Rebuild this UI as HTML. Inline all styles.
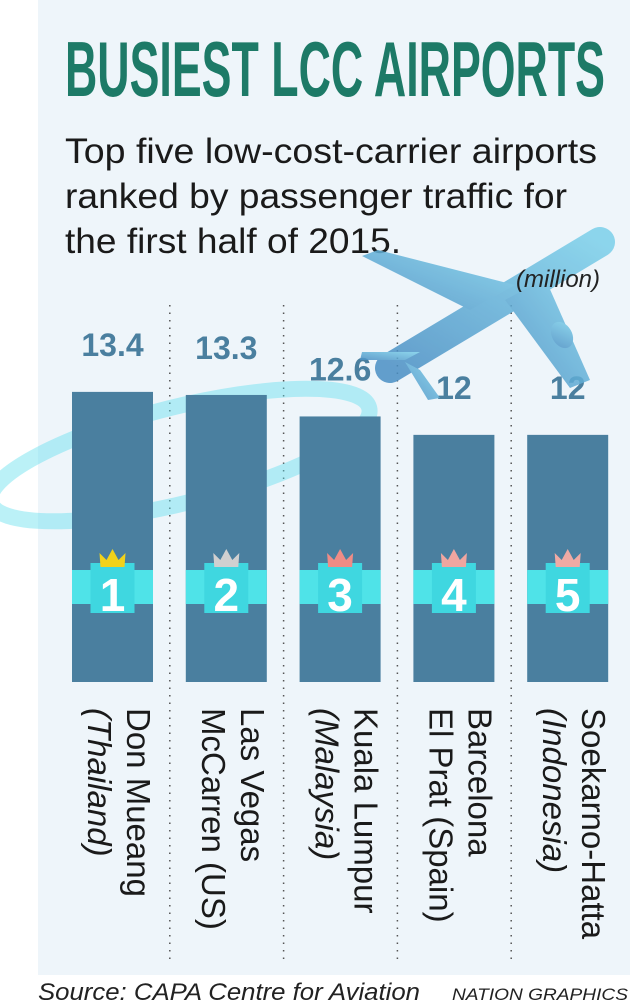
<!DOCTYPE html>
<html><head><meta charset="utf-8"><style>
html,body{margin:0;padding:0;background:#fff;}
svg{display:block;font-family:"Liberation Sans",sans-serif;}
</style></head><body>
<svg width="630" height="1008" viewBox="0 0 630 1008">
<defs>
<linearGradient id="pl" x1="0" y1="1" x2="1" y2="0"><stop offset="0" stop-color="#4a8fc4"/><stop offset="1" stop-color="#7cd0ea"/></linearGradient>
</defs>
<rect x="38" y="0" width="592" height="975" fill="#eef5fa"/>
<text x="65" y="96" font-size="78" font-weight="bold" fill="#1d7a67" textLength="540" lengthAdjust="spacingAndGlyphs">BUSIEST LCC AIRPORTS</text>
<g font-size="35" fill="#1a1a1a">
<text x="65" y="163" textLength="532" lengthAdjust="spacingAndGlyphs">Top five low-cost-carrier airports</text>
<text x="65" y="208" textLength="502" lengthAdjust="spacingAndGlyphs">ranked by passenger traffic for</text>
<text x="65" y="253" textLength="336" lengthAdjust="spacingAndGlyphs">the first half of 2015.</text>
</g>
<g id="dividers"></g>
<g id="swoosh" opacity="0.7">
<ellipse cx="180" cy="455" rx="195" ry="48" transform="rotate(-14 180 455)" fill="none" stroke="#5fe0ee" stroke-width="16" opacity="0.6"/>
</g>
<g id="bars"></g>
<g opacity="0.85" fill="url(#pl)">
<line x1="390" y1="368" x2="600" y2="242" stroke="url(#pl)" stroke-width="30" stroke-linecap="round"/>
<path d="M470 310 L515 285 L378 250 L362 256 Z"/>
<path d="M505 300 L545 278 L590 380 L570 388 Z"/>
<path d="M405 360 L420 352 L362 352 L360 360 Z"/>
<path d="M405 362 L420 370 L440 398 L428 400 Z"/>
<ellipse cx="562" cy="335" rx="10" ry="14" transform="rotate(-30 562 335)"/>
</g>
<text x="600" y="287" font-size="24" font-style="italic" fill="#222" text-anchor="end">(million)</text>
<g id="labels"></g>
<text x="38" y="1000" font-size="24" font-style="italic" fill="#222" textLength="382" lengthAdjust="spacingAndGlyphs">Source: CAPA Centre for Aviation</text>
<text x="452" y="1000" font-size="17" font-style="italic" fill="#222" textLength="176" lengthAdjust="spacingAndGlyphs">NATION GRAPHICS</text>
</svg>
<script>
const categories = ["Don Mueang|(Thailand)", "Las Vegas|McCarren (US)", "Kuala Lumpur|(Malaysia)", "Barcelona|El Prat (Spain)", "Soekarno-Hatta|(Indonesia)"];
const values = [13.4, 13.3, 12.6, 12, 12];
const valueLabels = ["13.4", "13.3", "12.6", "12", "12"];
const ranks = ["1", "2", "3", "4", "5"];
const crownColors = ["#f2d21a", "#d0d0d0", "#ef8c86", "#f0a6a0", "#f0aaa4"];

const NS = "http://www.w3.org/2000/svg";
const bottom = 682, base = 3.95, pxPerUnit = 30.7;
function y(v){ return bottom - (v - base) * pxPerUnit; }
function xLeft(i){ return 72 + i * 113.8; }
const bw = 81;
function mk(tag, attrs, parent){ const e = document.createElementNS(NS, tag); for (const k in attrs) e.setAttribute(k, attrs[k]); parent.appendChild(e); return e; }

const dv = document.getElementById("dividers");
for (let i = 1; i < categories.length; i++) {
  const x = xLeft(i) - 16;
  const l = mk("line", {x1:x, y1:305, x2:x, y2:960, stroke:"#555", "stroke-width":1.5, "stroke-dasharray":"1.5 6"}, dv);
  
  
}
const bars = document.getElementById("bars");
const lab = document.getElementById("labels");
values.forEach((v, i) => {
  const x = xLeft(i), top = y(v), cx = x + bw / 2;
  const r = mk("rect", {x:x, y:top, width:bw, height:bottom - top, fill:"#4a7f9f"}, bars);
  
  
  const t = mk("text", {x:cx, y:top - 36, "font-size":32, "font-weight":"bold", fill:"#4a7f9f", "text-anchor":"middle"}, bars);
  t.textContent = valueLabels[i];
  
  
  const band = mk("rect", {x:x, y:570, width:bw, height:34, fill:"#4fe3e8"}, bars);
  
  
  const box = mk("rect", {x:cx - 22, y:563, width:44, height:50, fill:"#3fd7e0"}, bars);
  
  
  const crown = mk("path", {d:`M${cx-12} 567 L${cx-13} 553 L${cx-6} 560 L${cx} 549 L${cx+6} 560 L${cx+13} 553 L${cx+12} 567 Z`, fill:crownColors[i]}, bars);
  
  
  const rn = mk("text", {x:cx, y:611, "font-size":46, "font-weight":"bold", fill:"#fff", "text-anchor":"middle"}, bars);
  rn.textContent = ranks[i];
  
  
  const parts = categories[i].split("|");
  const g = mk("g", {transform:`translate(${x + 55},708) rotate(90)`}, lab);
  
  
  const t1 = mk("text", {x:0, y:0, "font-size":33, fill:"#1a1a1a"}, g);
  t1.textContent = parts[0];
  const t2 = mk("text", {x:0, y:39, "font-size":33, fill:"#1a1a1a", "font-style": (i===1||i===3) ? "normal" : "italic"}, g);
  t2.textContent = parts[1];
});
</script>
</body></html>
